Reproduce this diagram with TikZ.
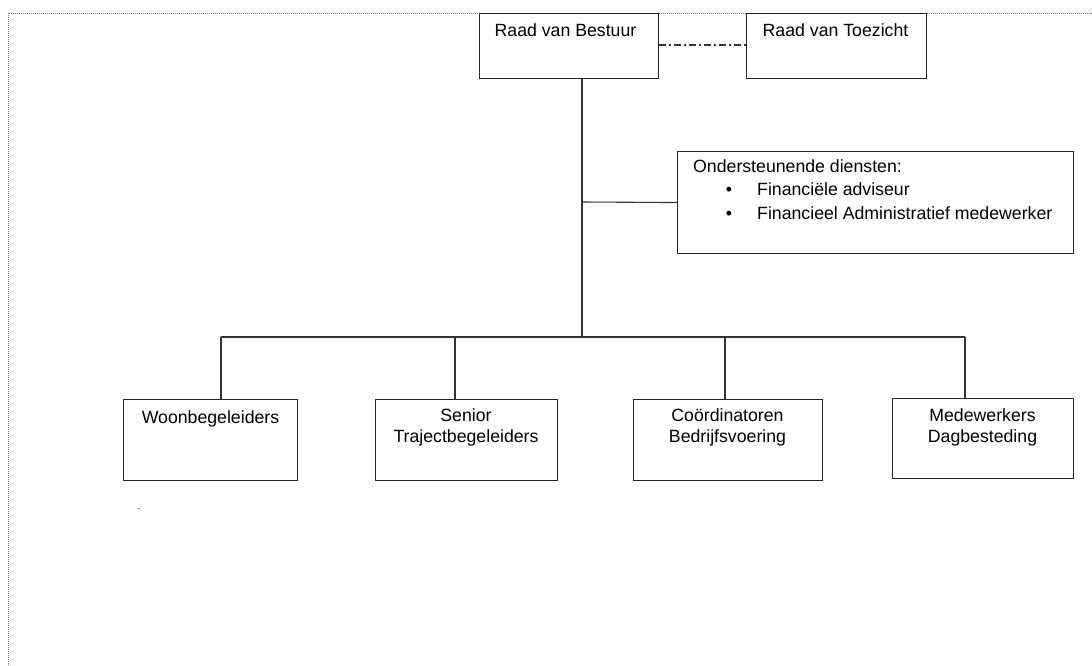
\documentclass[tikz,border=0pt]{standalone}
\usepackage{fontspec}
\setmainfont{Liberation Sans}
\begin{document}
\begin{tikzpicture}[x=1pt,y=-1pt,
  box/.style={draw=black!85, line width=1.1pt, rectangle, inner sep=0pt, anchor=north west},
  lbl/.style={inner sep=0pt, anchor=base, font=\fontsize{17.7pt}{21pt}\selectfont},
  conn/.style={draw=black!80, line width=1.1pt},
  frame/.style={draw=black!55, line width=0.9pt, dash pattern=on 1pt off 1pt}]
\useasboundingbox (0,0) rectangle (1092,666);
\draw[frame] (1092,13) -- (8,13) -- (8,666);
% boxes
\node[box, minimum width=179pt, minimum height=65pt] (rvb) at (479,13) {};
\node[box, minimum width=180pt, minimum height=65pt] (rvt) at (746,13) {};
\node[box, minimum width=396pt, minimum height=102pt] (ond) at (677,151) {};
\node[box, minimum width=174pt, minimum height=81pt] (woon) at (123,399) {};
\node[box, minimum width=182pt, minimum height=81pt] (sen) at (375,399) {};
\node[box, minimum width=189pt, minimum height=81pt] (coo) at (633,399) {};
\node[box, minimum width=181pt, minimum height=80pt] (med) at (892,398) {};
% texts
\node[lbl] (trvb) at (565.5,37) {Raad van Bestuur};
\node[lbl] (trvt) at (835.5,37) {Raad van Toezicht};
\node[lbl, anchor=base west] (tond) at (693,172) {Ondersteunende diensten:};
\node[lbl] (b1) at (729,195.5) {\textbullet};
\node[lbl, anchor=base west] (tond1) at (757,195.5) {Financiële adviseur};
\node[lbl] (b2) at (729,219) {\textbullet};
\node[lbl, anchor=base west] (tond2) at (757,219) {Financieel Administratief medewerker};
\node[lbl] (twoon) at (210.5,423) {Woonbegeleiders};
\node[lbl, align=center, anchor=north] (tsen) at (466,408) {Senior\\Trajectbegeleiders};
\node[lbl, align=center, anchor=north] (tcoo) at (727.5,408) {Coördinatoren\\Bedrijfsvoering};
\node[lbl, align=center, anchor=north] (tmed) at (982.5,408) {Medewerkers\\Dagbesteding};
\node[inner sep=0pt, font=\fontsize{10pt}{12pt}\selectfont] (dot) at (139,509) {.};
% connectors
\coordinate (trunk) at (582,337);
\coordinate (bus1) at (221,337);
\coordinate (bus2) at (455,337);
\coordinate (bus3) at (725,337);
\coordinate (bus4) at (965,337);
\coordinate (side) at (582,202);
\draw[conn, dash pattern=on 7pt off 3pt on 2pt off 3pt] (rvb.east |- 0,45) -- (rvt.west |- 0,45);
\draw[conn] (rvb.south -| trunk) -- (trunk);
\draw[conn] (side) -- (ond.west);
\draw[conn] (bus1) -- (bus4);
\draw[conn] (bus1) -- (bus1 |- woon.north);
\draw[conn] (bus2) -- (bus2 |- sen.north);
\draw[conn] (bus3) -- (bus3 |- coo.north);
\draw[conn] (bus4) -- (bus4 |- med.north);
\end{tikzpicture}
\end{document}
